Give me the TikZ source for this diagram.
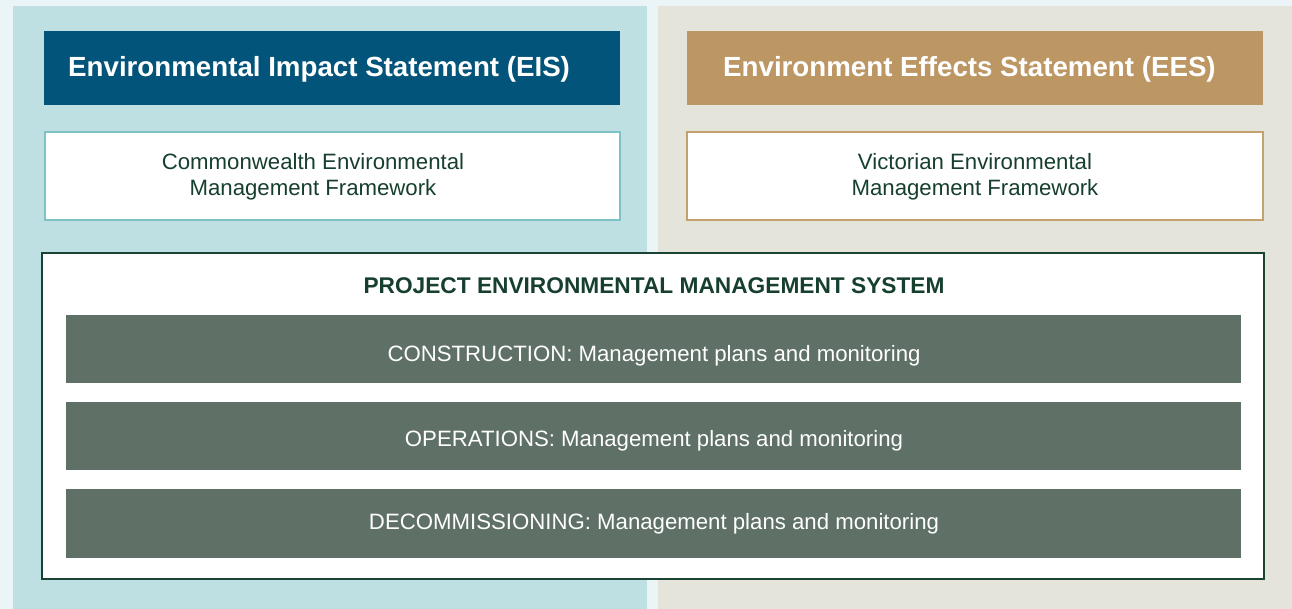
\documentclass[tikz,border=0pt]{standalone}
\usepackage{fontspec}
\setmainfont{Liberation Sans}
\definecolor{pagebg}{HTML}{EBF4F6}
\definecolor{eispanel}{HTML}{BFE0E2}
\definecolor{eespanel}{HTML}{E5E4DA}
\definecolor{eisblue}{HTML}{03547A}
\definecolor{eestan}{HTML}{BC9663}
\definecolor{eisline}{HTML}{7CC2C6}
\definecolor{eesline}{HTML}{C4A06E}
\definecolor{emsgreen}{HTML}{1B4332}
\definecolor{phasegrey}{HTML}{5F7067}
\definecolor{inkgreen}{HTML}{163F2E}
\tikzset{
  header/.style={fill=#1, draw=none},
  framebox/.style={fill=white, draw=#1, line width=2pt},
  phasebar/.style={fill=phasegrey, draw=none},
  headtext/.style={anchor=base west, inner sep=0pt, text=white,
    font=\fontsize{27.7}{32}\selectfont\bfseries},
  bodytext/.style={anchor=base, inner sep=0pt, text=inkgreen,
    font=\fontsize{22.2}{26}\selectfont},
  phasetext/.style={anchor=base, inner sep=0pt, text=white,
    font=\fontsize{22.2}{26}\selectfont},
}
\begin{document}
\begin{tikzpicture}[x=1pt, y=-1pt]
  % page and the two jurisdiction panels
  \fill[pagebg] (0,0) rectangle (1292,609);
  \useasboundingbox (0,0) rectangle (1292,609);
  \fill[eispanel] (13,6) rectangle (647,609);
  \fill[eespanel] (658,6) rectangle (1292,609);

  % headers
  \path[header=eisblue] (44,31) rectangle (620,105);
  \path[header=eestan] (687,31) rectangle (1263,105);
  \node[headtext] (eis) at (68,77) {Environmental Impact Statement (EIS)};
  \node[headtext] (ees) at (723,77) {Environment Effects Statement (EES)};

  % management frameworks
  \draw[framebox=eisline] (45,132) rectangle (620,220);
  \draw[framebox=eesline] (687,132) rectangle (1263,220);
  \node[bodytext] (cw1) at (313,170) {Commonwealth Environmental};
  \node[bodytext] (cw2) at (313,196) {Management Framework};
  \node[bodytext] (vic1) at (975,170) {Victorian Environmental};
  \node[bodytext] (vic2) at (975,196) {Management Framework};

  % project environmental management system
  \draw[fill=white, draw=emsgreen, line width=2pt] (42,253) rectangle (1264,579);
  \node[bodytext, font=\fontsize{22.7}{26}\selectfont\bfseries] (pems) at (654,294)
    {PROJECT ENVIRONMENTAL MANAGEMENT SYSTEM};

  % project phases
  \path[phasebar] (66,315) rectangle (1241,383);
  \path[phasebar] (66,402) rectangle (1241,470);
  \path[phasebar] (66,489) rectangle (1241,558);
  \node[phasetext] (con) at (654,361) {CONSTRUCTION: Management plans and monitoring};
  \node[phasetext] (ops) at (654,446) {OPERATIONS: Management plans and monitoring};
  \node[phasetext] (dec) at (654,529) {DECOMMISSIONING: Management plans and monitoring};
\end{tikzpicture}
\end{document}
